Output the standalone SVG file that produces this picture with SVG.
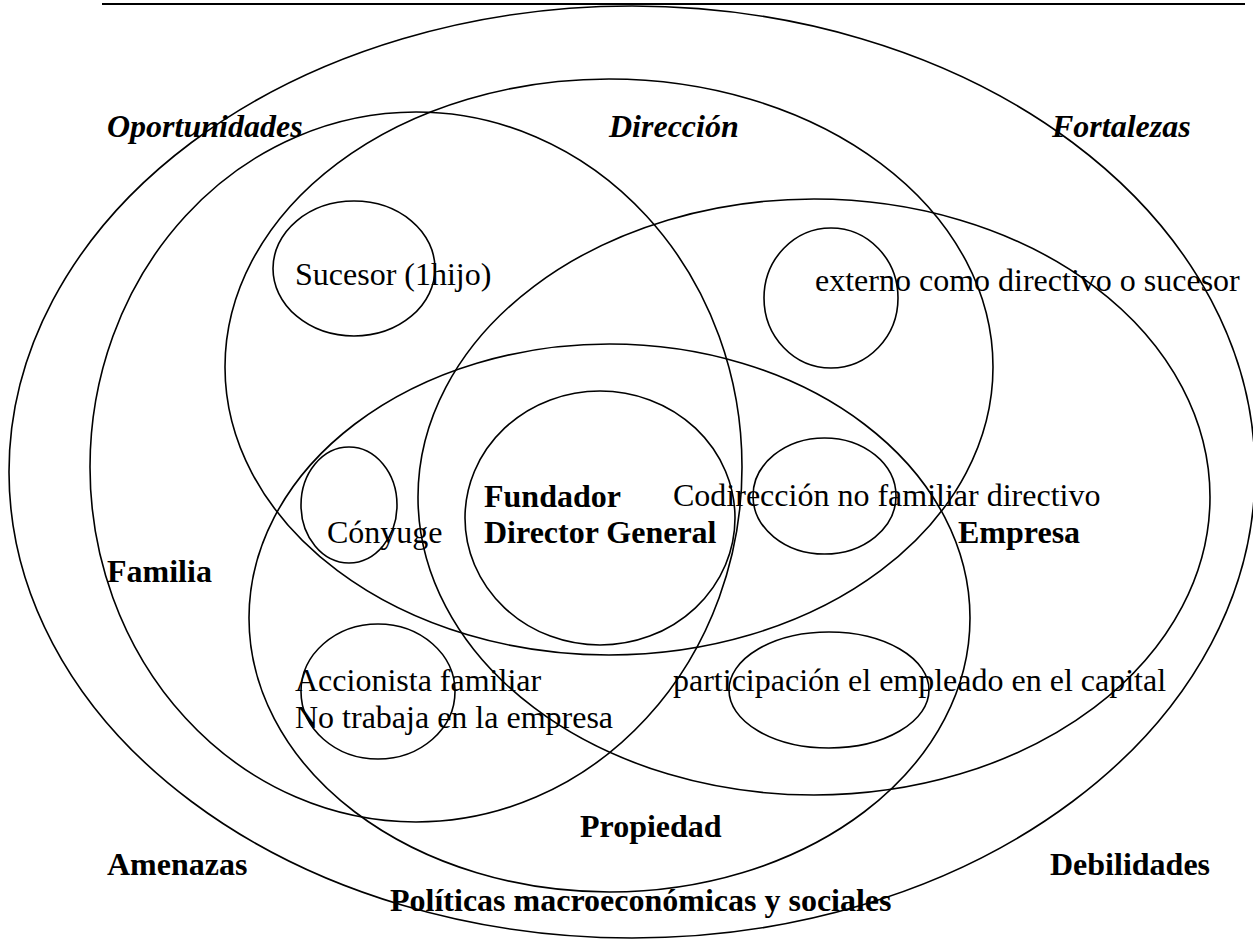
<svg xmlns="http://www.w3.org/2000/svg" width="1253" height="940" viewBox="0 0 1253 940">
  <style>
    .ring { fill: none; stroke: #000; stroke-width: 1.6; }
    .t { font-family: "Liberation Serif", "Times New Roman", serif; font-size: 32px; fill: #000; }
    .b { font-weight: bold; }
    .bi { font-weight: bold; font-style: italic; }
  </style>
  <rect width="1253" height="940" fill="#fff"/>
  <line x1="102" y1="4" x2="1245" y2="4" stroke="#000" stroke-width="2"/>

  <!-- environment -->
  <g id="entorno">
    <ellipse class="ring" cx="632" cy="472" rx="623" ry="466"/>
    <text class="t bi" x="107" y="137">Oportunidades</text>
    <text class="t bi" x="1052" y="137">Fortalezas</text>
    <text class="t b" x="107" y="875">Amenazas</text>
    <text class="t b" x="1050" y="875">Debilidades</text>
    <text class="t b" x="390" y="911">Políticas macroeconómicas y sociales</text>
  </g>

  <!-- the four overlapping systems -->
  <g id="familia">
    <ellipse class="ring" cx="416" cy="467" rx="326" ry="355"/>
    <text class="t b" x="107" y="582">Familia</text>
  </g>
  <g id="direccion">
    <ellipse class="ring" cx="609" cy="367" rx="384" ry="288"/>
    <text class="t bi" x="609" y="137">Dirección</text>
  </g>
  <g id="empresa">
    <ellipse class="ring" cx="814" cy="497" rx="396" ry="298"/>
    <text class="t b" x="958" y="543">Empresa</text>
  </g>
  <g id="propiedad">
    <ellipse class="ring" cx="609.5" cy="618" rx="360.5" ry="274"/>
    <text class="t b" x="580" y="837">Propiedad</text>
  </g>

  <!-- roles -->
  <g id="sucesor">
    <ellipse class="ring" cx="354" cy="268.5" rx="81" ry="67.5"/>
    <text class="t" x="295" y="285">Sucesor (1hijo)</text>
  </g>
  <g id="externo">
    <ellipse class="ring" cx="831" cy="298" rx="67" ry="70"/>
    <text class="t" x="815" y="291">externo como directivo o sucesor</text>
  </g>
  <g id="conyuge">
    <ellipse class="ring" cx="349" cy="505" rx="48" ry="58"/>
    <text class="t" x="327" y="543">Cónyuge</text>
  </g>
  <g id="fundador">
    <ellipse class="ring" cx="600" cy="518" rx="135" ry="127"/>
    <text class="t b" x="484" y="507">Fundador</text>
    <text class="t b" x="484" y="543">Director General</text>
  </g>
  <g id="codireccion">
    <ellipse class="ring" cx="824.5" cy="496" rx="71.5" ry="58"/>
    <text class="t" x="673" y="506">Codirección no familiar directivo</text>
  </g>
  <g id="accionista">
    <ellipse class="ring" cx="378" cy="691.5" rx="77" ry="67.5"/>
    <text class="t" x="295" y="691">Accionista familiar</text>
    <text class="t" x="295" y="728">No trabaja en la empresa</text>
  </g>
  <g id="participacion">
    <ellipse class="ring" cx="829" cy="690" rx="100" ry="58"/>
    <text class="t" x="673" y="691">participación el empleado en el capital</text>
  </g>

  <g id="connectors"/>
</svg>
